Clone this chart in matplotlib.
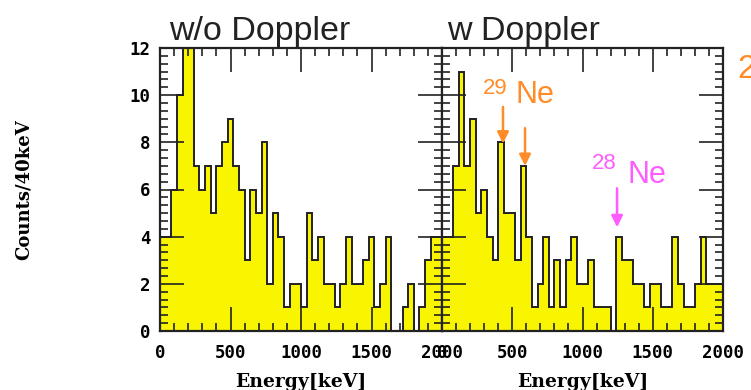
import numpy as np
import matplotlib
matplotlib.use('Agg')
import matplotlib.pyplot as plt
from matplotlib.ticker import MultipleLocator, AutoMinorLocator

# Counts per 40 keV bin, 0-2000 keV
counts_wo = [4, 4, 6, 10, 13, 13, 7, 6, 7, 5,
             7, 8, 9, 7, 6, 3, 6, 5, 8, 2,
             5, 4, 1, 2, 2, 1, 5, 3, 4, 2,
             2, 1, 2, 4, 2, 2, 3, 4, 1, 2,
             4, 0, 0, 1, 2, 0, 1, 3, 4, 4]
counts_w = [4, 4, 7, 11, 7, 9, 5, 6, 4, 3,
            8, 5, 5, 3, 7, 4, 1, 2, 4, 1,
            3, 1, 3, 4, 2, 2, 3, 1, 1, 1,
            0, 4, 3, 3, 2, 2, 1, 2, 2, 1,
            1, 4, 2, 1, 1, 2, 4, 2, 2, 2]
bin_width = 40
titles = ['w/o Doppler', 'w Doppler']
xticks = [0, 500, 1000, 1500, 2000]
yticks = [0, 2, 4, 6, 8, 10, 12]

# arrows: (energy, tail count, head count)
ne29_arrows = [(434, 9.5, 7.95), (591, 8.6, 7.0)]
ne28_arrows = [(1246, 6.05, 4.4)]

YELLOW = '#f9f500'
ORANGE = '#ff8c28'
MAGENTA = '#ff5cff'
tick_font = {'family': 'DejaVu Sans Mono', 'weight': 'bold', 'size': 12.5}
label_font = {'family': 'DejaVu Serif', 'weight': 'bold', 'size': 13.5}

fig = plt.figure(figsize=(7.51, 3.90), dpi=100)
W, H = 751, 390
ax_l = fig.add_axes([160 / W, (H - 331) / H, 282 / W, 283 / H])
ax_r = fig.add_axes([442 / W, (H - 331) / H, 281 / W, 283 / H])

edges = np.arange(0, 2000 + bin_width, bin_width)

for ax, counts, title in zip([ax_l, ax_r], [counts_wo, counts_w], titles):
    ax.stairs(counts, edges, fill=True, color=YELLOW, zorder=1)
    ax.stairs(counts, edges, color='#222222', linewidth=1.4, zorder=2)
    ax.set_xlim(0, 2000)
    ax.set_ylim(0, 12)
    ax.xaxis.set_major_locator(MultipleLocator(500))
    ax.xaxis.set_minor_locator(MultipleLocator(100))
    ax.yaxis.set_major_locator(MultipleLocator(2))
    ax.yaxis.set_minor_locator(AutoMinorLocator(6))
    ax.tick_params(which='both', direction='in', top=True, right=True,
                   color='#222222', width=1.2, zorder=3)
    ax.tick_params(which='major', length=17)
    ax.tick_params(which='minor', length=6)
    ax.tick_params(axis='x', pad=9)
    ax.tick_params(axis='y', pad=7)
    ax.set_xticks(xticks)
    ax.set_xticklabels([str(t) for t in xticks], fontdict=tick_font)
    for sp in ax.spines.values():
        sp.set_linewidth(1.6)
        sp.set_color('#222222')
        sp.set_zorder(4)
    ax.set_xlabel('Energy[keV]', fontdict=label_font)
    ax.xaxis.set_label_coords(0.5, -0.18)
    ax.xaxis.label.set_verticalalignment('center')

ax_l.set_yticks(yticks)
ax_l.set_yticklabels([str(t) for t in yticks], fontdict=tick_font)
ax_r.tick_params(axis='y', labelleft=False)

ax_l.text(0.032, 1.03, titles[0], transform=ax_l.transAxes, ha='left',
          va='baseline', family='Liberation Sans', fontsize=24.5,
          color='#222222')
ax_r.text(0.018, 1.03, titles[1], transform=ax_r.transAxes, ha='left',
          va='baseline', family='Liberation Sans', fontsize=24.5,
          color='#222222')

fig.text(24 / W, 1 - 190 / H, 'Counts/40keV', rotation=90, ha='center',
         va='center', fontdict={'family': 'DejaVu Serif', 'weight': 'bold',
                                'size': 13})

# isotope labels
ax_r.text(292, 10.72, '29', color=ORANGE, family='Liberation Sans',
          fontsize=16, ha='left', va='top')
ax_r.text(520, 9.66, 'Ne', color=ORANGE, family='Liberation Sans',
          fontsize=22, ha='left', va='baseline')
ax_r.text(1068, 7.54, '28', color=MAGENTA, family='Liberation Sans',
          fontsize=16, ha='left', va='top')
ax_r.text(1317, 6.27, 'Ne', color=MAGENTA, family='Liberation Sans',
          fontsize=22, ha='left', va='baseline')

for arrows, col in [(ne29_arrows, ORANGE), (ne28_arrows, MAGENTA)]:
    for x, y0, y1 in arrows:
        ax_r.annotate('', xy=(x, y1), xytext=(x, y0),
                      arrowprops=dict(arrowstyle='-|>', color=col, lw=1.8,
                                      mutation_scale=17, shrinkA=0, shrinkB=0),
                      zorder=5)

# label cut off at the right edge, as in the source image
fig.text(737 / W, 1 - 70 / H, '2', color=ORANGE, family='Liberation Sans',
         fontsize=24, ha='left', va='center')

fig.savefig('out.png', dpi=100)
